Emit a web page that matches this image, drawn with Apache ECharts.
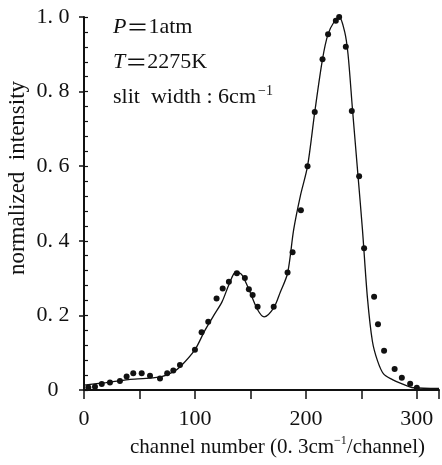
<!DOCTYPE html>
<html>
<head>
<meta charset="utf-8">
<script src="https://cdn.jsdelivr.net/npm/echarts@6/dist/echarts.min.js"></script>
<style>
	html, body { margin: 0; padding: 0; background: #fff; }
	#chart { width: 442px; height: 465px; }
</style>
</head>
<body>
<div id="chart"></div>
<script>
'use strict';
// fitted curve, [channel, intensity]
var fitCurve = [
	[0, 0.013], [20, 0.02], [40, 0.028], [56, 0.031], [70, 0.036], [80, 0.048],
	[87, 0.063], [100, 0.108], [109, 0.16], [117, 0.2], [124.5, 0.237], [131, 0.285],
	[137, 0.317], [142, 0.31], [148.6, 0.27], [156.5, 0.215], [162.4, 0.196],
	[171, 0.22], [177, 0.263], [183.5, 0.313], [189, 0.43], [195, 0.52],
	[201.5, 0.6], [208, 0.745], [215, 0.887], [220, 0.954], [226, 0.99], [230, 1.0],
	[235, 0.96], [238, 0.9], [242, 0.753], [247, 0.574], [251, 0.43], [255.5, 0.247],
	[260, 0.13], [264.6, 0.078], [270, 0.043], [278, 0.028], [285.6, 0.018],
	[297, 0.006], [320, 0.004]
];
// measured points
var measured = [
	[3.9, 0.007], [9.9, 0.009], [16, 0.016], [23.4, 0.02], [32.4, 0.024],
	[38.4, 0.036], [44.4, 0.045], [52, 0.045], [59.5, 0.038], [68.5, 0.031],
	[75, 0.045], [80.5, 0.052], [86.5, 0.067], [100, 0.108], [106, 0.155],
	[112, 0.183], [119.5, 0.245], [125, 0.272], [130.6, 0.29], [137.8, 0.313],
	[145, 0.3], [148.6, 0.27], [152, 0.255], [156.5, 0.223], [171, 0.223],
	[183.5, 0.315], [188, 0.369], [195.5, 0.482], [201.5, 0.6], [208, 0.745],
	[215, 0.887], [220, 0.954], [227, 0.99], [230, 1.0], [236, 0.92],
	[241.4, 0.748], [248, 0.573], [252.5, 0.38], [261.5, 0.25], [265, 0.176],
	[270.5, 0.105], [280, 0.056], [286.5, 0.033], [294, 0.017], [300, 0.006]
];
var xLabels = [0, 100, 200, 300];
var yLabels = ['0', '0. 2', '0. 4', '0. 6', '0. 8', '1. 0'];

var serif = '"Liberation Serif", "DejaVu Serif", serif';
var cjk = '"Noto Sans CJK SC", sans-serif';
var myChart = echarts.init(document.getElementById('chart'));
var option = {
	backgroundColor: '#fff',
	animation: false,
	grid: {
		left: 84,
		top: 17,
		width: 355,
		height: 373
	},
	xAxis: {
		type: 'value',
		min: 0,
		max: 320,
		interval: 50,
		axisLine: { lineStyle: { color: '#111', width: 2 } },
		axisTick: { show: true, length: 9, lineStyle: { color: '#111', width: 1.5 } },
		splitLine: { show: false },
		axisLabel: {
			margin: 18,
			color: '#111',
			fontFamily: serif,
			fontSize: 22,
			formatter: function (v) {
				return xLabels.indexOf(v) >= 0 ? String(v) : '';
			}
		}
	},
	yAxis: [{
		type: 'value',
		min: 0,
		max: 1,
		interval: 0.2,
		axisLine: { lineStyle: { color: '#111', width: 2 } },
		axisTick: { show: true, length: 5, lineStyle: { color: '#111', width: 1.5 } },
		splitLine: { show: false },
		axisLabel: {
			margin: 31,
			align: 'center',
			color: '#111',
			fontFamily: serif,
			fontSize: 22,
			formatter: function (v) {
				return yLabels[Math.round(v / 0.2)];
			}
		}
	}, {
		// minor ticks on the inner side
		type: 'value',
		position: 'left',
		min: 0,
		max: 1,
		interval: 0.04,
		axisLine: { show: false },
		axisTick: { show: true, inside: true, length: 4, lineStyle: { color: '#111', width: 1.2 } },
		splitLine: { show: false },
		axisLabel: { show: false }
	}],
	series: [{
		name: 'fit',
		type: 'line',
		data: fitCurve,
		smooth: 0.3,
		symbol: 'none',
		lineStyle: { color: '#111', width: 1.3 }
	}, {
		name: 'measured',
		type: 'scatter',
		data: measured,
		symbolSize: 6,
		itemStyle: { color: '#111', opacity: 1 }
	}],
	graphic: [{
		type: 'text',
		left: 113,
		top: 16,
		style: {
			text: '{i|P}{e|\uff1d}{n|1atm}',
			rich: {
				i: { fontFamily: serif, fontStyle: 'italic', fontSize: 22, fill: '#111' },
				e: { fontFamily: cjk, fontSize: 22, fill: '#111' },
				n: { fontFamily: serif, fontSize: 22, fill: '#111' }
			}
		}
	}, {
		type: 'text',
		left: 113,
		top: 51,
		style: {
			text: '{i|T}{e|\uff1d}{n|2275K}',
			rich: {
				i: { fontFamily: serif, fontStyle: 'italic', fontSize: 22, fill: '#111' },
				e: { fontFamily: cjk, fontSize: 22, fill: '#111' },
				n: { fontFamily: serif, fontSize: 22, fill: '#111' }
			}
		}
	}, {
		type: 'text',
		left: 113,
		top: 84,
		style: {
			text: '{n|slit  width : 6cm}{s|\u22121}',
			rich: {
				n: { fontFamily: serif, fontSize: 22, fill: '#111' },
				s: { fontFamily: serif, fontSize: 14, fill: '#111', padding: [0, 0, 12, 2] }
			}
		}
	}, {
		type: 'text',
		left: 130,
		top: 435,
		style: {
			text: '{n|channel number (0. 3cm}{s|\u22121}{n|/channel)}',
			rich: {
				n: { fontFamily: serif, fontSize: 21, fill: '#111' },
				s: { fontFamily: serif, fontSize: 12, fill: '#111', padding: [0, 0, 12, 0] }
			}
		}
	}, {
		type: 'text',
		x: 18,
		y: 178,
		rotation: Math.PI / 2,
		style: {
			text: 'normalized  intensity',
			fontFamily: serif,
			fontSize: 23,
			fill: '#111',
			align: 'center',
			verticalAlign: 'middle'
		}
	}]
};
myChart.setOption(option);
</script>
</body>
</html>
